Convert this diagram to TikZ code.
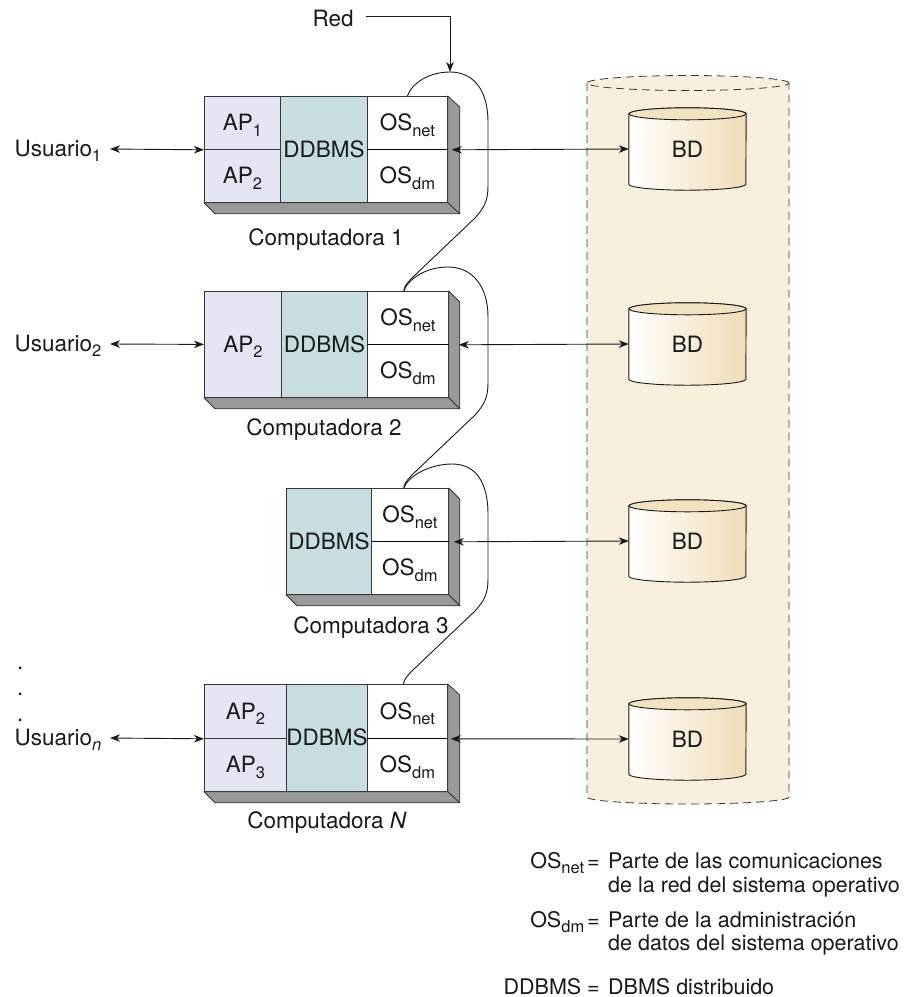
\documentclass[tikz,border=0pt]{standalone}
\usepackage{fontspec}
\setmainfont{TeX Gyre Heros}
\usetikzlibrary{arrows.meta,backgrounds}
\definecolor{apfill}{RGB}{228,230,243}
\definecolor{dbfill}{RGB}{200,221,224}
\definecolor{netbg}{RGB}{248,240,220}
\definecolor{shgray}{RGB}{153,153,153}
\definecolor{edge}{RGB}{55,55,55}
\definecolor{tanside}{RGB}{240,221,182}
\definecolor{tantop}{RGB}{242,227,194}
\definecolor{ink}{RGB}{25,25,25}
\newcommand\subx[1]{\raisebox{-5.5pt}{\fontsize{16.5}{16.5}\selectfont #1}}
\begin{document}
\begin{tikzpicture}[x=1pt,y=-1pt,
  font=\fontsize{22.5}{26}\selectfont, text=ink,
  >={Stealth[length=10pt,width=7.5pt,inset=3pt]},
  cell/.style={draw=edge, line width=0.8pt, inner sep=0pt, text height=16pt, text depth=0pt, anchor=north west},
  ap/.style={cell, fill=apfill},
  db/.style={cell, fill=dbfill},
  os/.style={cell, fill=white},
  shade3d/.style={fill=shgray, draw=edge, line width=0.8pt, line join=round},
  midline/.style={line width=1.3pt, draw=black},
  conn/.style={<->, line width=0.9pt, draw=ink},
  netline/.style={line width=0.9pt, draw=ink},
  bdcell/.style={inner sep=0pt, minimum width=117pt, minimum height=70pt, text height=16pt, text depth=0pt},
  lbl/.style={anchor=base west},
  key/.style={anchor=base east, inner sep=0pt, font=\fontsize{21.5}{24}\selectfont},
  val/.style={anchor=base west, inner sep=0pt, font=\fontsize{21.5}{24}\selectfont},
  dotx/.style={anchor=base west, inner sep=0pt}
]
\useasboundingbox (0,0) rectangle (914,997);

% ---------- big dashed cylinder (background) ----------
\begin{pgfonlayer}{background}
  \fill[netbg] (587,83) -- (587,797) arc[start angle=180,end angle=360,x radius=101pt,y radius=7pt]
     -- (789,83) arc[start angle=0,end angle=180,x radius=101pt,y radius=7.5pt] -- cycle;
  \draw[edge, line width=0.8pt, dash pattern=on 8pt off 5pt]
     (587,83) -- (587,797) arc[start angle=180,end angle=360,x radius=101pt,y radius=7pt] -- (789,83);
  \draw[edge, line width=0.8pt, dash pattern=on 8pt off 5pt] (688,83) ellipse[x radius=101pt,y radius=7.5pt];
\end{pgfonlayer}

% ---------- Computer 1 ----------
\node[ap, minimum width=76pt, minimum height=53pt] (c1ap1) at (204,96) {AP\subx{1}};
\node[ap, minimum width=76pt, minimum height=53pt] (c1ap2) at (204,149) {AP\subx{2}};
\node[db, minimum width=87pt, minimum height=106pt] (c1db) at (280,96) {DDBMS};
\node[os, minimum width=80pt, minimum height=53pt] (c1net) at (367,96) {OS\subx{net}};
\node[os, minimum width=80pt, minimum height=53pt] (c1dm) at (367,149) {OS\subx{dm}};
\path[shade3d] (c1net.north east) -- ++(12,11) -- ([shift={(12,11)}]c1dm.south east) -- (c1dm.south east) -- cycle;
\path[shade3d] (c1ap2.south west) -- (c1dm.south east) -- ++(12,11) -- ([shift={(11,11)}]c1ap2.south west) -- cycle;
\draw[midline] (c1net.south west) -- (c1net.south east);
\node (cap1) at (326,240) {Computadora 1};

% ---------- Computer 2 ----------
\node[ap, minimum width=77pt, minimum height=106pt] (c2ap) at (204,291) {AP\subx{2}};
\node[db, minimum width=86pt, minimum height=106pt] (c2db) at (281,291) {DDBMS};
\node[os, minimum width=81pt, minimum height=53pt] (c2net) at (367,291) {OS\subx{net}};
\node[os, minimum width=81pt, minimum height=53pt] (c2dm) at (367,344) {OS\subx{dm}};
\path[shade3d] (c2net.north east) -- ++(11,11) -- ([shift={(11,11)}]c2dm.south east) -- (c2dm.south east) -- cycle;
\path[shade3d] (c2ap.south west) -- (c2dm.south east) -- ++(11,11) -- ([shift={(11,11)}]c2ap.south west) -- cycle;
\draw[midline] (c2net.south west) -- (c2net.south east);
\node (cap2) at (324,430) {Computadora 2};

% ---------- Computer 3 ----------
\node[db, minimum width=85pt, minimum height=106pt] (c3db) at (286,488) {DDBMS};
\node[os, minimum width=77pt, minimum height=53pt] (c3net) at (371,488) {OS\subx{net}};
\node[os, minimum width=77pt, minimum height=53pt] (c3dm) at (371,541) {OS\subx{dm}};
\path[shade3d] (c3net.north east) -- ++(11,11) -- ([shift={(11,11)}]c3dm.south east) -- (c3dm.south east) -- cycle;
\path[shade3d] (c3db.south west) -- (c3dm.south east) -- ++(11,11) -- ([shift={(11,11)}]c3db.south west) -- cycle;
\draw[midline] (c3net.south west) -- (c3net.south east);
\node (cap3) at (371,628) {Computadora 3};

% ---------- Computer N ----------
\node[ap, minimum width=82pt, minimum height=54pt] (cNap2) at (204,684) {AP\subx{2}};
\node[ap, minimum width=82pt, minimum height=53pt] (cNap3) at (204,738) {AP\subx{3}};
\node[db, minimum width=81pt, minimum height=107pt] (cNdb) at (286,684) {DDBMS};
\node[os, minimum width=80pt, minimum height=54pt] (cNnet) at (367,684) {OS\subx{net}};
\node[os, minimum width=80pt, minimum height=53pt] (cNdm) at (367,738) {OS\subx{dm}};
\path[shade3d] (cNnet.north east) -- ++(12,11) -- ([shift={(12,11)}]cNdm.south east) -- (cNdm.south east) -- cycle;
\path[shade3d] (cNap3.south west) -- (cNdm.south east) -- ++(12,11) -- ([shift={(11,11)}]cNap3.south west) -- cycle;
\draw[midline] (cNnet.south west) -- (cNnet.south east);
\node (capN) at (327,823) {Computadora \textit{N}};

% ---------- users ----------
\node[lbl] (u1) at (11,156) {Usuario\subx{1}};
\node[lbl] (u2) at (11,351) {Usuario\subx{2}};
\node[lbl] (un) at (11,745) {Usuario\subx{\textit{n}}};
\node[dotx] (d1) at (17,669) {.};
\node[dotx] (d2) at (17,695) {.};
\node[dotx] (d3) at (17,721) {.};
\coordinate (u1e) at (110,149);
\coordinate (u2e) at (110,344);
\coordinate (une) at (110,738);
\draw[conn] (u1e) -- (c1ap1.south west);
\draw[conn] (u2e) -- (c2ap.west);
\draw[conn] (une) -- (cNap2.south west);

% ---------- databases ----------
\node[bdcell] (bd1) at (687.5,149) {BD};
\node[bdcell] (bd2) at (687.5,344) {BD};
\node[bdcell] (bd3) at (687.5,541) {BD};
\node[bdcell] (bdN) at (687.5,739) {BD};
\begin{pgfonlayer}{background}
  \foreach \b in {bd1,bd2,bd3,bdN}{
    \path[left color=white, right color=tanside, draw=ink, line width=0.9pt]
      (\b.north west) -- (\b.south west) arc[start angle=180,end angle=360,x radius=58.5pt,y radius=6pt]
      -- (\b.north east) arc[start angle=0,end angle=180,x radius=58.5pt,y radius=6pt] -- cycle;
    \path[fill=tantop, draw=ink, line width=0.9pt] (\b.north) ellipse[x radius=58.5pt,y radius=6pt];
  }
\end{pgfonlayer}

\coordinate (c1in) at ([xshift=4pt]c1net.south east);
\coordinate (c2in) at ([xshift=10pt]c2net.south east);
\coordinate (c3in) at ([xshift=5pt]c3net.south east);
\coordinate (cNin) at ([xshift=3pt]cNnet.south east);
\draw[conn] (bd1.west) -- (c1in);
\draw[conn] (bd2.west) -- (c2in);
\draw[conn] (bd3.west) -- (c3in);
\draw[conn] (bdN.west) -- (cNin);

% ---------- network ----------
\node[lbl] (red) at (309,26) {Red};
\coordinate (peak) at (450,72);
\draw[->, netline] ([xshift=9pt,yshift=2pt]red.east) -| (peak);
\draw[netline] (c1net.north) .. controls +(4,-12) and +(-22,0) .. (peak)
   .. controls +(25,0) and +(0,-30) .. (488,122) -- (488,186)
   .. controls (488,201) and (484,208) .. (475,218) -- (413,277)
   .. controls (406,284) and (404,287) .. ([xshift=-4pt]c2net.north);
\draw[netline] ([xshift=-4pt]c2net.north) .. controls +(4,-12) and +(-22,0) .. (448,267)
   .. controls +(25,0) and +(0,-30) .. (488,317) -- (488,383)
   .. controls (488,398) and (484,405) .. (475,415) -- (413,474)
   .. controls (406,481) and (404,484) .. ([xshift=-6pt]c3net.north);
\draw[netline] ([xshift=-6pt]c3net.north) .. controls +(4,-12) and +(-22,0) .. (452,464)
   .. controls +(25,0) and +(0,-30) .. (488,514) -- (488,579)
   .. controls (488,594) and (484,601) .. (475,611) -- (413,670)
   .. controls (406,677) and (404,680) .. ([xshift=-4pt]cNnet.north);

% ---------- legend ----------
\node[key] (k1) at (600,868) {OS\subx{net}\hspace{3pt}=};
\node[val] (v1a) at (608,868) {Parte de las comunicaciones};
\node[val] (v1b) at (608,892) {de la red del sistema operativo};
\node[key] (k2) at (600,927) {OS\subx{dm}\hspace{3pt}=};
\node[val] (v2a) at (608,927) {Parte de la administración};
\node[val] (v2b) at (608,950) {de datos del sistema operativo};
\node[key] (k3) at (600,994) {DDBMS =};
\node[val] (v3) at (608,994) {DBMS distribuido};
\end{tikzpicture}
\end{document}
